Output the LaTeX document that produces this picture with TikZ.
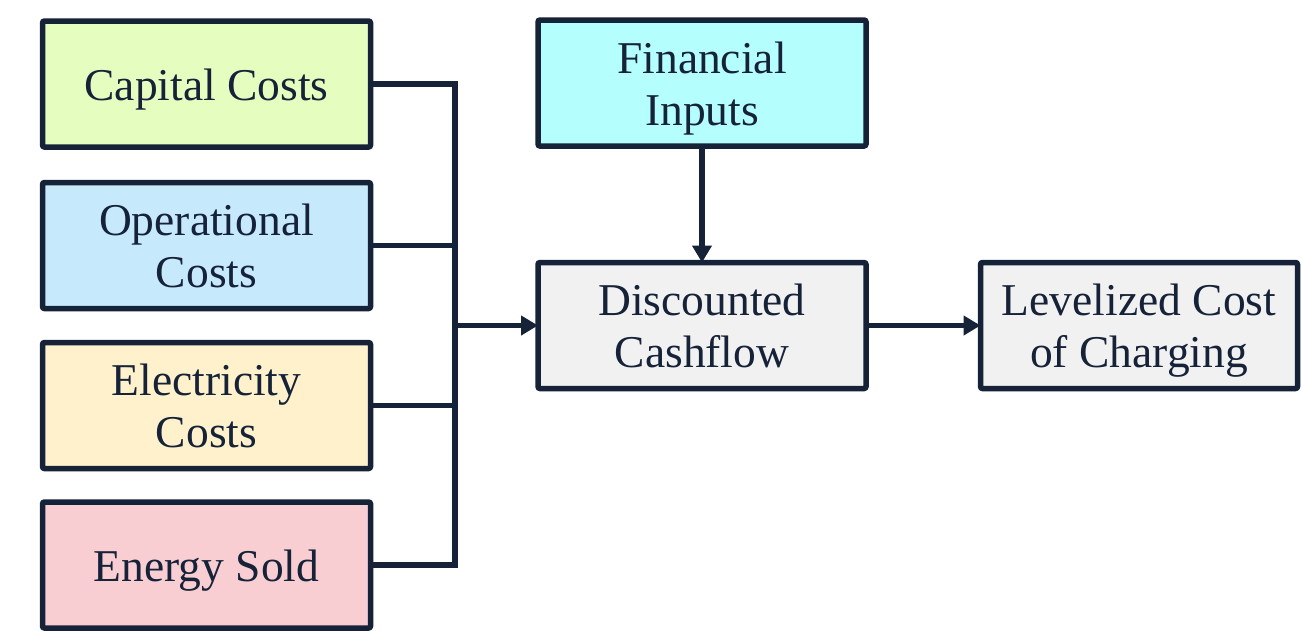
\documentclass[tikz,border=0pt]{standalone}
\usepackage{fontspec}
\setmainfont{Liberation Serif}
\usetikzlibrary{arrows.meta}
\definecolor{ink}{HTML}{152238}
\definecolor{capfill}{HTML}{E6FDC0}
\definecolor{opfill}{HTML}{C7E9FC}
\definecolor{elfill}{HTML}{FFF1CB}
\definecolor{enfill}{HTML}{F8CED3}
\definecolor{finfill}{HTML}{B4FEFD}
\definecolor{greyfill}{HTML}{F1F1F1}
\newcommand\twolines[2]{\begin{tabular}[b]{@{}c@{}}#1\\#2\end{tabular}}
\tikzset{
  box/.style={draw=ink, line width=5.5pt, rounded corners=2pt, rectangle,
    minimum width=328pt, minimum height=126pt, text=ink,
    inner sep=0pt, outer sep=0pt, text height=32pt, text depth=0pt,
    font=\fontsize{45.5}{52}\selectfont},
  boxtwo/.style={box, text height=84pt},
  conn/.style={draw=ink, line width=5.5pt},
  arr/.style={draw=ink, line width=5.5pt, -{Triangle[length=17pt,width=19pt]}}
}
\begin{document}
\begin{tikzpicture}[x=1pt,y=1pt]
\useasboundingbox (0,0) rectangle (1302,-630);
\node[box, fill=capfill] (cap) at (206.5,-84) {Capital Costs};
\node[boxtwo, fill=opfill] (op) at (206.5,-245.5) {\twolines{Operational}{Costs}};
\node[boxtwo, fill=elfill] (el) at (206.5,-405.5) {\twolines{Electricity}{Costs}};
\node[box, fill=enfill] (en) at (206.5,-565) {Energy Sold};
\node[boxtwo, fill=finfill] (fin) at (702,-83) {\twolines{Financial}{Inputs}};
\node[boxtwo, fill=greyfill] (dc) at (702,-325.5) {\twolines{Discounted}{Cashflow}};
\node[boxtwo, fill=greyfill, minimum width=317pt] (lc) at (1139,-325.5) {\twolines{Levelized Cost}{of Charging}};
\coordinate (bus) at (455,-325.5);
\draw[conn] (cap.east) -| (bus) |- (en.east);
\draw[conn] (op.east) -- (op.east -| bus);
\draw[conn] (el.east) -- (el.east -| bus);
\draw[arr] (bus) -- (dc.west);
\draw[arr] (fin.south) -- (dc.north);
\draw[arr] (dc.east) -- (lc.west);
\end{tikzpicture}
\end{document}
